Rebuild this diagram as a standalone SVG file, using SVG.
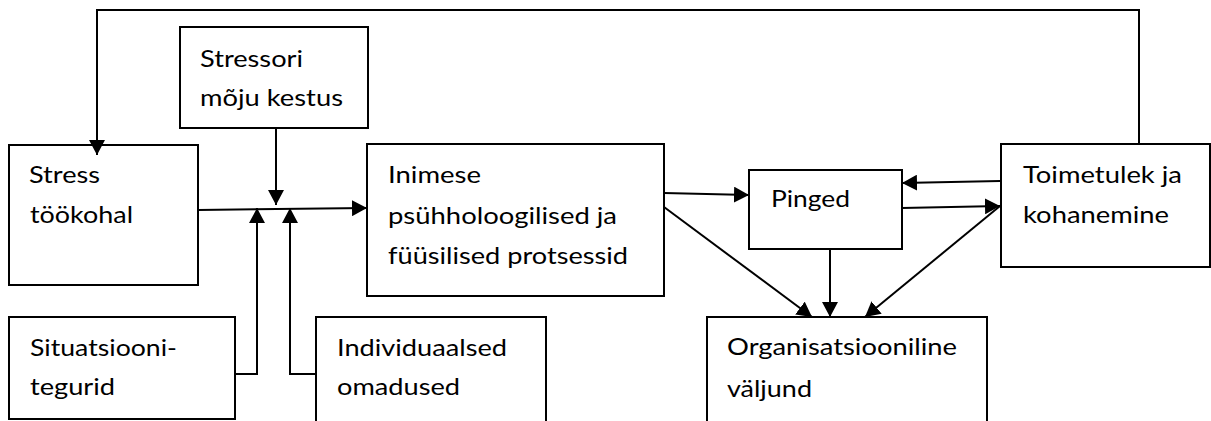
<svg xmlns="http://www.w3.org/2000/svg" width="1211" height="421" viewBox="0 0 1211 421">
<style>
.box{fill:#fff;stroke:#000;stroke-width:2}
.t{font-family:Lato,"Open Sans","Liberation Sans",sans-serif;font-size:24px;fill:#000}
.c{fill:none;stroke:#000;stroke-width:2}
</style>
<defs>
<marker id="ah" markerUnits="userSpaceOnUse" markerWidth="15" markerHeight="16" viewBox="0 0 15 16" refX="15" refY="8" orient="auto">
<path d="M0,0 L15,8 L0,16 z" fill="#000"/>
</marker>
</defs>
<rect width="1211" height="421" fill="#fff"/>
<g id="stressori">
<rect class="box" x="180" y="27" width="188" height="101"/>
<text class="t" x="200" y="67" textLength="103" lengthAdjust="spacingAndGlyphs">Stressori</text>
<text class="t" x="200" y="106" textLength="143" lengthAdjust="spacingAndGlyphs">mõju kestus</text>
</g>
<g id="stress">
<rect class="box" x="9" y="145" width="189" height="140"/>
<text class="t" x="29" y="183" textLength="71" lengthAdjust="spacingAndGlyphs">Stress</text>
<text class="t" x="30" y="223" textLength="103" lengthAdjust="spacingAndGlyphs">töökohal</text>
</g>
<g id="situatsiooni">
<rect class="box" x="9" y="317" width="226" height="102"/>
<text class="t" x="30" y="356" textLength="147" lengthAdjust="spacingAndGlyphs">Situatsiooni-</text>
<text class="t" x="30" y="395" textLength="85" lengthAdjust="spacingAndGlyphs">tegurid</text>
</g>
<g id="individuaalsed">
<rect class="box" x="316" y="317" width="230" height="120"/>
<text class="t" x="337" y="356" textLength="170" lengthAdjust="spacingAndGlyphs">Individuaalsed</text>
<text class="t" x="337" y="395" textLength="123" lengthAdjust="spacingAndGlyphs">omadused</text>
</g>
<g id="inimese">
<rect class="box" x="367" y="144" width="297" height="152"/>
<text class="t" x="388" y="183" textLength="93" lengthAdjust="spacingAndGlyphs">Inimese</text>
<text class="t" x="388" y="224" textLength="229" lengthAdjust="spacingAndGlyphs">psühholoogilised ja</text>
<text class="t" x="388" y="264" textLength="240" lengthAdjust="spacingAndGlyphs">füüsilised protsessid</text>
</g>
<g id="pinged">
<rect class="box" x="749" y="170" width="153" height="79"/>
<text class="t" x="771" y="207" textLength="79" lengthAdjust="spacingAndGlyphs">Pinged</text>
</g>
<g id="toimetulek">
<rect class="box" x="1001" y="144" width="209" height="123"/>
<text class="t" x="1023" y="183" textLength="159" lengthAdjust="spacingAndGlyphs">Toimetulek ja</text>
<text class="t" x="1023" y="223" textLength="146" lengthAdjust="spacingAndGlyphs">kohanemine</text>
</g>
<g id="organisatsiooniline">
<rect class="box" x="707" y="317" width="280" height="120"/>
<text class="t" x="727" y="355" textLength="230" lengthAdjust="spacingAndGlyphs">Organisatsiooniline</text>
<text class="t" x="727" y="397" textLength="85" lengthAdjust="spacingAndGlyphs">väljund</text>
</g>
<g id="connectors">
<polyline class="c" points="1139,144 1139,10 97,10 97,155" marker-end="url(#ah)"/>
<line class="c" x1="198" y1="210" x2="367" y2="208" marker-end="url(#ah)"/>
<line class="c" x1="276" y1="128" x2="276" y2="205" marker-end="url(#ah)"/>
<polyline class="c" points="235,374 257,374 257,208" marker-end="url(#ah)"/>
<polyline class="c" points="316,374 290,374 290,208" marker-end="url(#ah)"/>
<line class="c" x1="664" y1="193" x2="749" y2="195" marker-end="url(#ah)"/>
<line class="c" x1="664" y1="207" x2="812" y2="317" marker-end="url(#ah)"/>
<line class="c" x1="830" y1="249" x2="830" y2="317" marker-end="url(#ah)"/>
<line class="c" x1="1000" y1="181" x2="902" y2="183" marker-end="url(#ah)"/>
<line class="c" x1="902" y1="208" x2="1000" y2="206" marker-end="url(#ah)"/>
<line class="c" x1="1000" y1="206" x2="865" y2="317" marker-end="url(#ah)"/>
</g>
</svg>
